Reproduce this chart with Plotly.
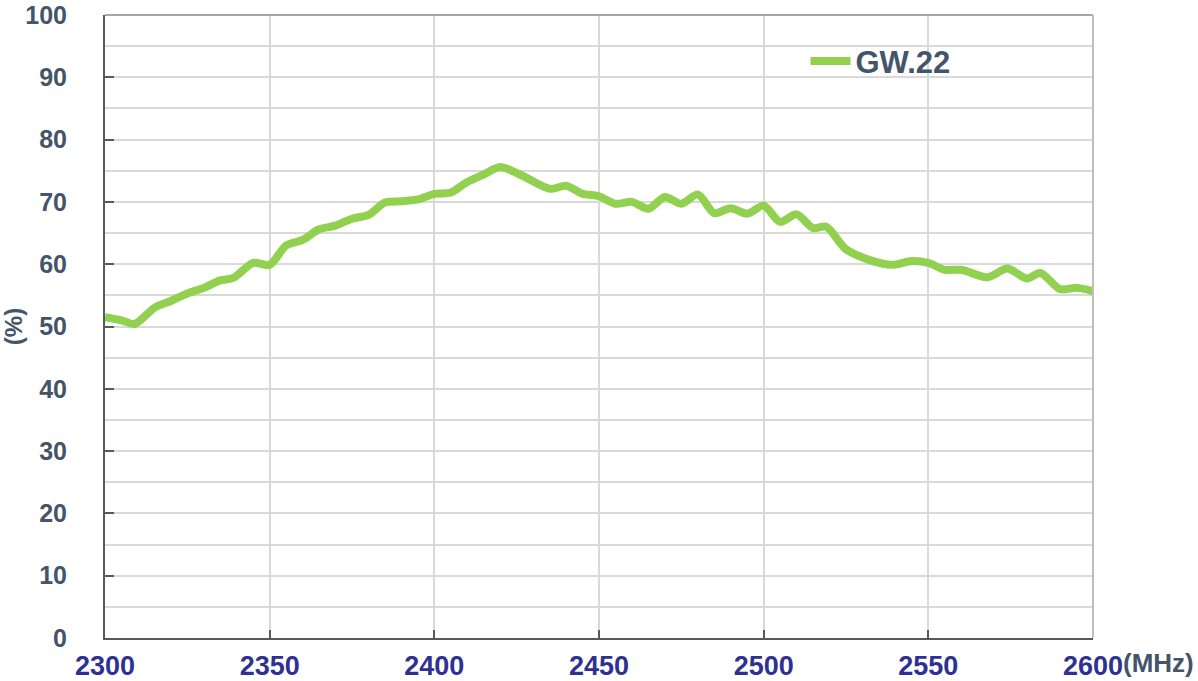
import plotly.graph_objects as go

freq_mhz = [2300, 2305, 2309, 2315, 2320, 2325, 2330, 2335, 2339, 2345, 2350, 2355, 2360,
            2365, 2370, 2375, 2380, 2385, 2390, 2395, 2400, 2405, 2410, 2415, 2420, 2426,
            2435, 2440, 2445, 2450, 2455, 2460, 2465, 2470, 2475, 2480, 2485, 2490, 2495,
            2500, 2505, 2510, 2515, 2519, 2525, 2532, 2539, 2545, 2550, 2555, 2560, 2568,
            2574, 2580, 2584, 2590, 2595, 2600]
gw22_eff = [51.5, 51.0, 50.4, 53.0, 54.1, 55.3, 56.2, 57.4, 57.8, 60.2, 59.9, 63.0, 63.9,
            65.6, 66.2, 67.3, 67.9, 69.9, 70.1, 70.4, 71.3, 71.5, 73.2, 74.4, 75.6, 74.4,
            72.1, 72.6, 71.3, 70.9, 69.7, 70.0, 68.9, 70.8, 69.7, 71.2, 68.2, 69.0, 68.1,
            69.4, 66.8, 68.0, 65.8, 66.0, 62.4, 60.7, 59.9, 60.5, 60.2, 59.1, 59.1, 57.9,
            59.3, 57.7, 58.6, 56.0, 56.2, 55.7]
x_ticks = [2300, 2350, 2400, 2450, 2500, 2550, 2600]
y_ticks = [0, 10, 20, 30, 40, 50, 60, 70, 80, 90, 100]
series_name = "GW.22"

GRID = "#D9D9D9"
AXIS = "#595959"
YLAB = "#44546A"
XLAB = "#2E3192"
FONT = "Liberation Sans, Arial, sans-serif"

fig = go.Figure()
fig.add_trace(go.Scatter(
    x=freq_mhz, y=gw22_eff, mode="lines", name=series_name,
    line=dict(color="#92D050", width=8, shape="spline", smoothing=0.8),
))

fig.update_layout(
    width=1198, height=681,
    margin=dict(l=105, r=105, t=15, b=43, autoexpand=False),
    paper_bgcolor="white", plot_bgcolor="white",
    font=dict(family=FONT),
    showlegend=True,
    legend=dict(
        x=0.709, y=0.969, xanchor="left", yanchor="top",
        bgcolor="rgba(0,0,0,0)",
        font=dict(family=FONT, size=31, color=YLAB, weight="bold"),
        itemwidth=40,
    ),
    xaxis=dict(
        range=[2300, 2600], tickvals=x_ticks, ticktext=[str(v) for v in x_ticks],
        showgrid=True, gridcolor=GRID, gridwidth=2,
        showline=True, linecolor=AXIS, linewidth=2,
        ticks="inside", ticklen=8, tickcolor=AXIS, tickwidth=2,
        tickfont=dict(family=FONT, size=27, color=XLAB, weight="bold"),
        ticklabelstandoff=3, zeroline=False, automargin=False,
        ticklabeloverflow="allow",
    ),
    yaxis=dict(
        range=[0, 100], tickvals=y_ticks,
        showgrid=True, gridcolor=GRID, gridwidth=1.5,
        minor=dict(dtick=5, showgrid=True, gridcolor=GRID, gridwidth=1.5),
        showline=True, linecolor=AXIS, linewidth=2,
        ticks="inside", ticklen=9, tickcolor=AXIS, tickwidth=2,
        tickfont=dict(family=FONT, size=25, color=YLAB, weight="bold"),
        ticklabelstandoff=31, zeroline=False, automargin=False,
        ticklabeloverflow="allow",
        title=dict(text="(%)", font=dict(family=FONT, size=24, color=YLAB, weight="bold"), standoff=8),
    ),
)

# top and right borders
fig.add_shape(type="line", xref="paper", yref="paper", x0=0, x1=1, y0=1, y1=1,
              line=dict(color="#A6A6A6", width=2))
fig.add_shape(type="line", xref="paper", yref="paper", x0=1, x1=1, y0=0, y1=1,
              line=dict(color="#BFBFBF", width=2))
# legend background box covering grid
fig.add_shape(type="rect", xref="paper", yref="paper", x0=0.585, x1=0.99, y0=0.859, y1=0.987,
              fillcolor="white", line=dict(width=0), layer="between")

fig.add_annotation(text="(MHz)", xref="paper", yref="paper", x=1.028, y=-0.040,
                   xanchor="left", yanchor="middle", showarrow=False,
                   font=dict(family=FONT, size=26, color=YLAB, weight="bold"))

fig.write_html("out.html", config={"displayModeBar": False},
               post_script="document.body.style.margin='0';")
